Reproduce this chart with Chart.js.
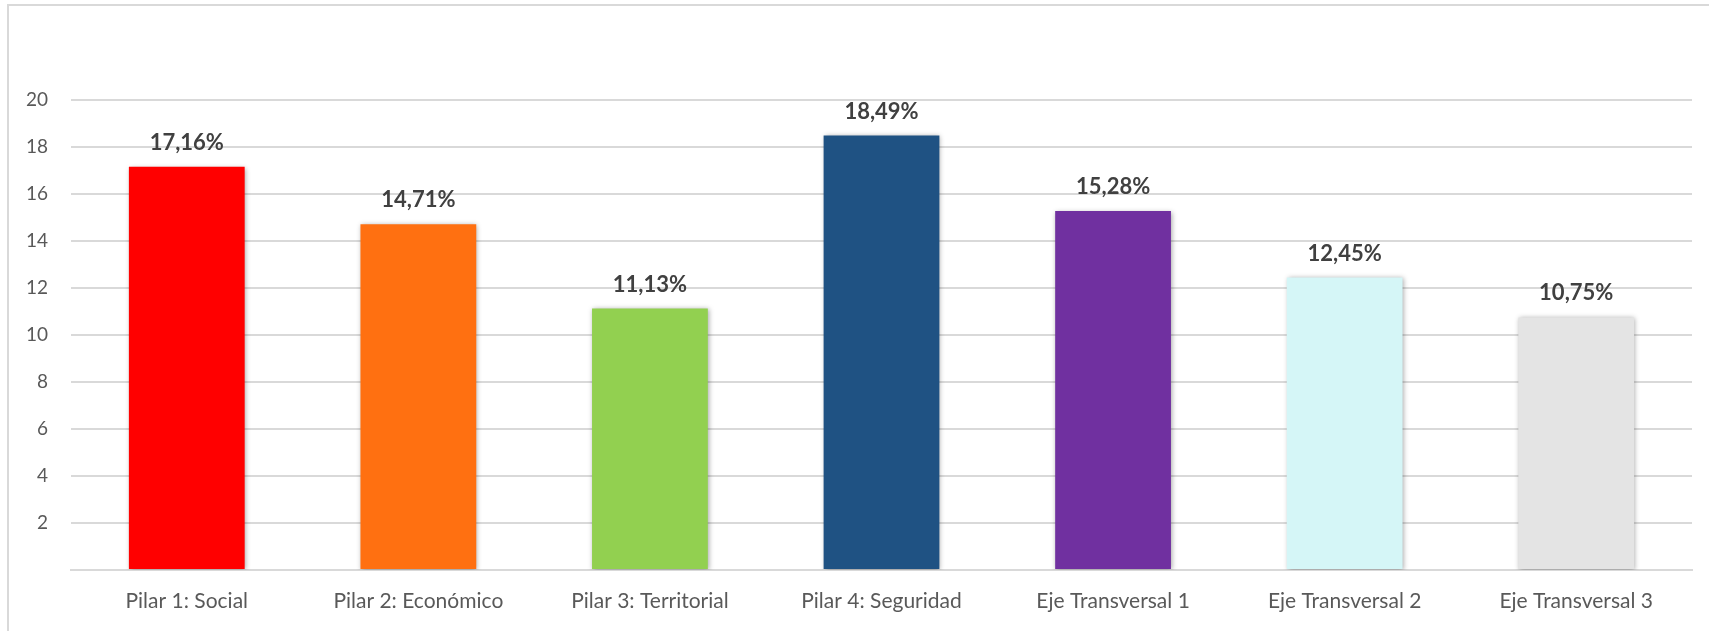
<!DOCTYPE html>
<html>
<head>
<meta charset="utf-8">
<script src="https://cdn.jsdelivr.net/npm/chart.js@4/dist/chart.umd.min.js"></script>
<style>
  body { margin: 0; background: #fff; overflow: hidden; }
  #wrap { position: relative; width: 1709px; height: 631px; }
  #frame { position: absolute; left: 7px; top: 4px; width: 1720px; height: 640px; border: 2px solid #D9D9D9; box-sizing: border-box; }
  canvas { position: absolute; left: 0; top: 0; }
</style>
</head>
<body>
<div id="wrap">
  <div id="frame"></div>
  <canvas id="myChart" width="1709" height="631"></canvas>
</div>
<script>
// categories and values
const categories = ['Pilar 1: Social', 'Pilar 2: Económico', 'Pilar 3: Territorial', 'Pilar 4: Seguridad', 'Eje Transversal 1', 'Eje Transversal 2', 'Eje Transversal 3'];
const values = [17.16, 14.71, 11.13, 18.49, 15.28, 12.45, 10.75];
const yTicks = [2, 4, 6, 8, 10, 12, 14, 16, 18, 20];
const barColors = ['#FF0000', '#FF7011', '#92D050', '#1F5283', '#7030A0', '#D5F6F7', '#E4E4E4'];

const fontFamily = 'Lato, "Open Sans", sans-serif';

// soft shadow behind the bars, like the original
const barShadow = {
    id: 'barShadow',
    beforeDatasetsDraw(chart) {
        const c = chart.ctx;
        c.save();
        c.shadowColor = 'rgba(0,0,0,0.35)';
        c.shadowBlur = 5;
        c.shadowOffsetX = 1;
        c.shadowOffsetY = 1;
    },
    afterDatasetsDraw(chart) {
        chart.ctx.restore();
    }
};

// percentage labels over each bar
const valueLabels = {
    id: 'valueLabels',
    afterDatasetsDraw(chart) {
        const c = chart.ctx;
        const meta = chart.getDatasetMeta(0);
        c.save();
        c.font = 'bold 22px ' + fontFamily;
        c.fillStyle = '#404040';
        c.textAlign = 'center';
        c.textBaseline = 'middle';
        meta.data.forEach((bar, i) => {
            const txt = values[i].toFixed(2).replace('.', ',') + '%';
            c.fillText(txt, bar.x, bar.y - 24);
        });
        c.restore();
    }
};

const ctx = document.getElementById('myChart');

const data = {
    labels: categories,
    datasets: [
        {
            data: values,
            backgroundColor: barColors,
            borderWidth: 0,
            categoryPercentage: 1,
            barPercentage: 0.5
        }
    ]
};

const options = {
    responsive: false,
    animation: false,
    layout: {
        padding: { top: 100, right: 17, left: 0, bottom: 0 }
    },
    plugins: {
        legend: { display: false },
        tooltip: { enabled: false }
    },
    scales: {
        x: {
            grid: { display: false, drawTicks: false },
            border: { display: true, color: '#D9D9D9', width: 2 },
            ticks: {
                color: '#595959',
                font: { size: 21, family: fontFamily },
                padding: 19,
                maxRotation: 0
            },
            afterFit(scale) { scale.height = 61; }
        },
        y: {
            min: 0,
            max: 20,
            afterBuildTicks(scale) {
                scale.ticks = [{ value: 0 }].concat(yTicks.map(v => ({ value: v })));
            },
            grid: { color: '#D9D9D9', lineWidth: 2, drawTicks: false },
            border: { display: false },
            ticks: {
                color: '#595959',
                font: { size: 19, family: fontFamily },
                padding: 23,
                callback: v => v === 0 ? '' : v
            },
            afterFit(scale) { scale.width = 71; }
        }
    }
};

const barChart = new Chart(ctx, {
    type: 'bar',
    data: data,
    options: options,
    plugins: [barShadow, valueLabels]
});
</script>
</body>
</html>
